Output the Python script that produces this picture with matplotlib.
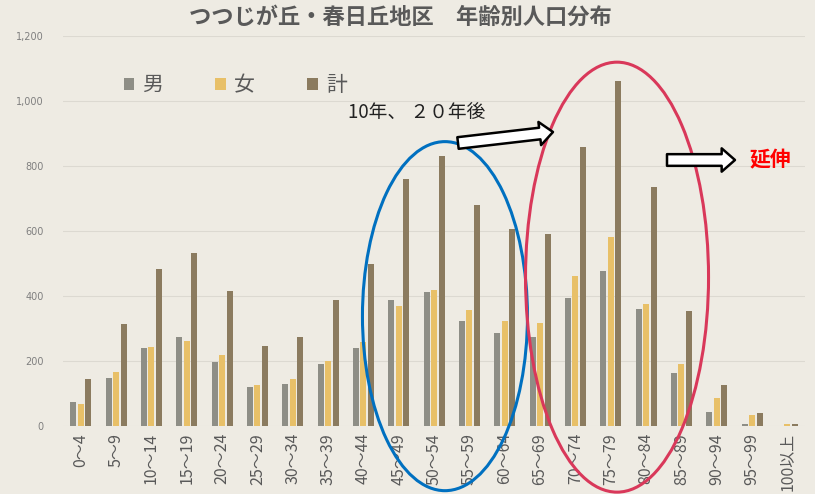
import numpy as np
import matplotlib
matplotlib.use('Agg')
import matplotlib.pyplot as plt
from matplotlib.patches import Ellipse

plt.rcParams['font.family'] = ['Noto Sans CJK JP', 'DejaVu Sans']

# age groups and population counts
ages = ['0～4', '5～9', '10～14', '15～19', '20～24', '25～29', '30～34', '35～39',
        '40～44', '45～49', '50～54', '55～59', '60～64', '65～69', '70～74', '75～79',
        '80～84', '85～89', '90～94', '95～99', '100以上']
male = [75, 147, 239, 273, 196, 119, 129, 190, 241, 388, 411, 324, 287, 275,
        394, 478, 361, 163, 42, 6, 0]
female = [68, 166, 243, 261, 220, 126, 145, 201, 259, 370, 417, 357, 322, 316,
          462, 582, 375, 192, 86, 33, 5]
total = [144, 314, 482, 531, 415, 245, 275, 388, 497, 759, 831, 679, 607, 591,
         857, 1062, 736, 353, 126, 40, 5]

bg = '#EEEBE3'
c_male = '#8E8E86'
c_female = '#E8C068'
c_total = '#8B7B5F'
txt = '#595959'

fig = plt.figure(figsize=(8.15, 4.94), dpi=100, facecolor=bg)
ax = fig.add_axes([63 / 815, 1 - 426 / 494, 742 / 815, 390 / 494])
ax.set_facecolor(bg)

x = np.arange(len(ages))
w = 0.17
ax.bar(x - 0.21, male, w, color=c_male, label='男', zorder=3)
ax.bar(x, female, w, color=c_female, label='女', zorder=3)
ax.bar(x + 0.22, total, w, color=c_total, label='計', zorder=3)

ax.set_xlim(-0.5, len(ages) - 0.5)
ax.set_ylim(0, 1200)
ax.set_yticks(range(0, 1201, 200))
ax.set_yticklabels([f'{v:,}' for v in range(0, 1201, 200)],
                   fontsize=7, color='#7F7F7F', family='DejaVu Sans')
ax.set_xticks(x)
ax.set_xticklabels(ages, rotation=90, fontsize=11.5, color=txt)
ax.tick_params(axis='both', length=0)
ax.tick_params(axis='y', pad=14)
ax.tick_params(axis='x', pad=5)
ax.grid(axis='y', color='#DCD9D1', lw=0.8, zorder=0)
for s in ax.spines.values():
    s.set_visible(False)

leg = ax.legend(ncol=3, frameon=False, fontsize=15, handlelength=0.5,
                handleheight=0.5, handletextpad=0.4, columnspacing=2.5,
                loc='center left', bbox_to_anchor=(105 / 815, 1 - 85 / 494),
                bbox_transform=fig.transFigure)
for t in leg.get_texts():
    t.set_color(txt)

# highlight ellipses
ax.add_patch(Ellipse((10.31, 338), 4.67, 1074, fill=False, ec='#0070C0',
                     lw=2.2, clip_on=False, zorder=5))
ax.add_patch(Ellipse((15.18, 458), 5.18, 1323, fill=False, ec='#D9385A',
                     lw=2.2, clip_on=False, zorder=5))

# block arrows
arrow_style = dict(arrowstyle='simple,head_length=0.8,head_width=1.4,tail_width=0.7',
                   fc='white', ec='black', lw=1.8, mutation_scale=12,
                   shrinkA=0, shrinkB=0)
ax.annotate('', xy=(553, 362), xytext=(458, 351), xycoords='figure pixels',
            textcoords='figure pixels', arrowprops=arrow_style, zorder=6)
ax.annotate('', xy=(735, 334), xytext=(667, 334), xycoords='figure pixels',
            textcoords='figure pixels', arrowprops=arrow_style, zorder=6)

fig.text(348 / 815, 1 - 113 / 494, '10年、 ２０年後', fontsize=13.5,
         color='#222222', ha='left', va='center')
fig.text(750 / 815, 1 - 160 / 494, '延伸', fontsize=15, color='#FF0000',
         fontweight='bold', ha='left', va='center')

fig.text(400 / 815, 1 - 17 / 494, 'つつじが丘・春日丘地区　年齢別人口分布',
         fontsize=16, fontweight='bold', color=txt, ha='center', va='center')

fig.savefig('out.png', dpi=100, facecolor=bg)
